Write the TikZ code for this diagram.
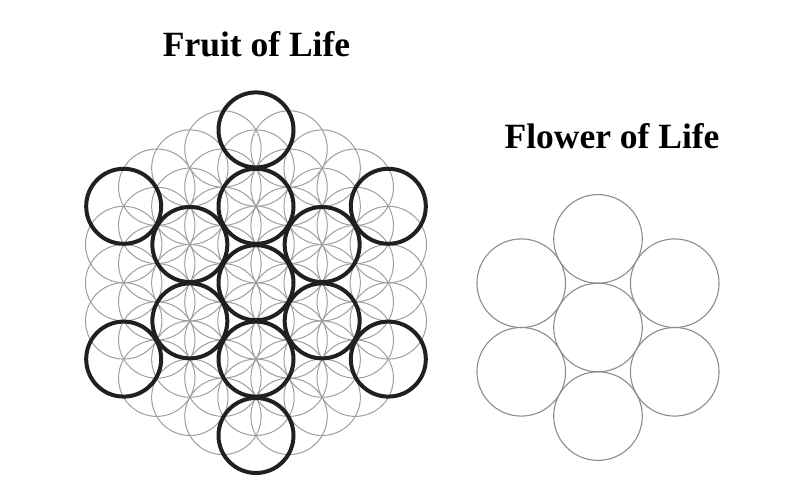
\documentclass[tikz,border=0pt]{standalone}
\usepackage{fontspec}
\setmainfont{Liberation Serif}
\definecolor{boldring}{HTML}{231F20}
\definecolor{thinring}{HTML}{9E9E9E}
\definecolor{flowerring}{HTML}{8C8C8C}
\tikzset{
  thinline/.style={draw=thinring, line width=1pt},
  boldline/.style={draw=boldring, line width=4pt},
  flowerline/.style={draw=flowerring, line width=1.1pt},
  titletext/.style={font=\bfseries\fontsize{35.5}{40}\selectfont, anchor=base, inner sep=0pt}
}
\begin{document}
\begin{tikzpicture}[x=1pt,y=-1pt]
\useasboundingbox (0,0) rectangle (800,500);
\def\s{38.2}
\def\sx{33.08}
\def\cx{256}
\def\cy{282.7}
% Flower of Life grid (thin)
\foreach \q in {-4,...,4}{
  \foreach \r in {-4,...,4}{
    \pgfmathtruncatemacro\k{abs(\q)+abs(\r)+abs(\q+\r)}
    \ifnum\k<9
      \draw[thinline] ({\cx+\q*\sx},{\cy-(\r+\q/2)*\s}) circle (\s);
    \fi
  }
}
% Fruit of Life (bold)
\draw[boldline] (\cx,\cy) circle (37.5);
\foreach \dx/\dy in {0/1, 1/0.5, 1/-0.5, 0/-1, -1/-0.5, -1/0.5}{
  \foreach \m in {2,4}{
    \draw[boldline] ({\cx+\m*\dx*\sx},{\cy-\m*\dy*\s}) circle (37.5);
  }
}
% Right figure
\def\fr{44.3}
\def\fx{598}
\def\fy{327.5}
\draw[flowerline] (\fx,\fy) circle (\fr);
\foreach \a in {90,30,-30,-90,-150,150}{
  \draw[flowerline] ({\fx+2*\fr*cos(\a)},{\fy-2*\fr*sin(\a)}) circle (\fr);
}
\node[titletext] (fruit) at (256.5,56.5) {Fruit of Life};
\node[titletext] (flower) at (612,148) {Flower of Life};
\end{tikzpicture}
\end{document}
